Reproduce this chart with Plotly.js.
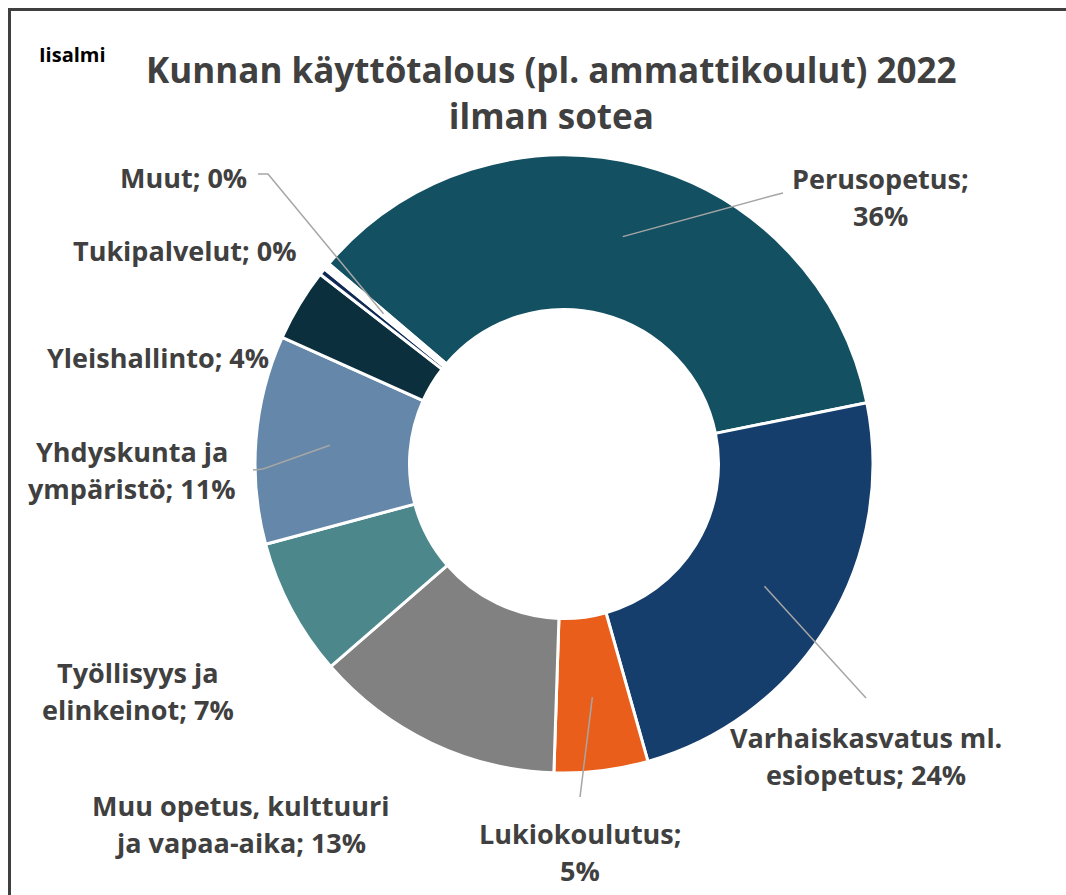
<!DOCTYPE html>
<html>
<head>
<meta charset="utf-8">
<script src="https://cdn.plot.ly/plotly-3.0.1.min.js"></script>
<style>html,body{margin:0;padding:0;background:#fff;}#chart{width:1066px;height:895px;}</style>
</head>
<body>
<div id="chart"></div>
<script>
// ---- data ----
const categories = ["Perusopetus", "Varhaiskasvatus ml. esiopetus", "Lukiokoulutus",
  "Muu opetus, kulttuuri ja vapaa-aika", "Työllisyys ja elinkeinot", "Yhdyskunta ja ympäristö",
  "Yleishallinto", "Tukipalvelut", "Muut"];
const values = [35.6, 23.8, 4.9, 13.1, 7.2, 10.9, 3.8, 0.35, 0.35];
const labelLines = [
  ["Perusopetus;", "36%"],
  ["Varhaiskasvatus ml.", "esiopetus; 24%"],
  ["Lukiokoulutus;", "5%"],
  ["Muu opetus, kulttuuri", "ja vapaa-aika; 13%"],
  ["Työllisyys ja", "elinkeinot; 7%"],
  ["Yhdyskunta ja", "ympäristö; 11%"],
  ["Yleishallinto; 4%"],
  ["Tukipalvelut; 0%"],
  ["Muut; 0%"]
];
const colors = ["#135062", "#163E6C", "#E85E1A", "#818181", "#4C878B", "#6587A9", "#0B2F3C", "#112A55", "#FFFFFF"];

// ---- layout (pixels) ----
const W = 1066, H = 895;
const CX = 564, CY = 464, R = 309;
const ROT = -49.6;
const textColor = "#404040";
const fontFam = "'Open Sans', 'Noto Sans', sans-serif";
// label block centres (px)
const labelPos = [[880, 197], [866, 756], [580, 852], [240, 824], [138, 691], [132, 470], [158, 357], [185, 251], [183, 177]];
// leader-line label-side points (px): [anchor, elbow] or null
const leaderPts = [
  [[783, 193], [775, 195]],
  [[866, 698], null],
  [[580, 797], null],
  null, null,
  [[253, 470], [263, 469]],
  null, null,
  [[258, 174], [268, 174]]
];

const px = x => x / W;
const py = y => 1 - y / H;

const total = values.reduce((a, b) => a + b, 0);
let cum = 0;
const shapes = [];
const annotations = [];
values.forEach((v, i) => {
  const mid = (ROT + (cum + v / 2) / total * 360) * Math.PI / 180;
  cum += v;
  const lp = leaderPts[i];
  if (lp) {
    const rt = 0.76 * R;
    const tx = CX + rt * Math.sin(mid), ty = CY - rt * Math.cos(mid);
    let path = `M ${px(lp[0][0])} ${py(lp[0][1])}`;
    if (lp[1]) path += ` L ${px(lp[1][0])} ${py(lp[1][1])}`;
    path += ` L ${px(tx)} ${py(ty)}`;
    shapes.push({type: "path", xref: "paper", yref: "paper", path: path,
      line: {color: "#A6A6A6", width: 1.5}});
  }
  const lines = labelLines[i];
  const n = lines.length;
  lines.forEach((t, k) => {
    annotations.push({
      xref: "paper", yref: "paper", x: px(labelPos[i][0]), y: py(labelPos[i][1] + (k - (n - 1) / 2) * 37),
      xanchor: "center", yanchor: "middle", showarrow: false, text: t,
      font: {family: fontFam, size: 27, color: textColor, weight: 700}
    });
  });
});

// title + corner text
annotations.push({xref: "paper", yref: "paper", x: px(551), y: py(93), xanchor: "center", yanchor: "middle",
  showarrow: false, text: "Kunnan käyttötalous (pl. ammattikoulut) 2022<br>ilman sotea",
  font: {family: fontFam, size: 35, color: textColor, weight: 700}});
annotations.push({xref: "paper", yref: "paper", x: px(37), y: py(54), xanchor: "left", yanchor: "middle",
  showarrow: false, text: "Iisalmi", font: {family: fontFam, size: 20, color: "#000", weight: 700}});

// frame
shapes.push({type: "path", xref: "paper", yref: "paper",
  path: `M ${px(9.5)} ${py(900)} L ${px(9.5)} ${py(9.5)} L ${px(1070)} ${py(9.5)}`,
  line: {color: "#3F3F3F", width: 3}});

const trace = {
  type: "pie",
  labels: categories,
  values: values,
  sort: false,
  direction: "clockwise",
  rotation: ROT,
  hole: 0.5,
  textinfo: "none",
  hoverinfo: "label+percent",
  marker: {colors: colors, line: {color: "#FFFFFF", width: 3}},
  domain: {x: [px(CX - R), px(CX + R)], y: [py(CY + R), py(CY - R)]},
  showlegend: false
};

const layout = {
  width: W, height: H,
  margin: {l: 0, r: 0, t: 0, b: 0},
  paper_bgcolor: "#FFFFFF",
  showlegend: false,
  shapes: shapes,
  annotations: annotations
};

Plotly.newPlot("chart", [trace], layout, {displayModeBar: false, staticPlot: true});
</script>
</body>
</html>
